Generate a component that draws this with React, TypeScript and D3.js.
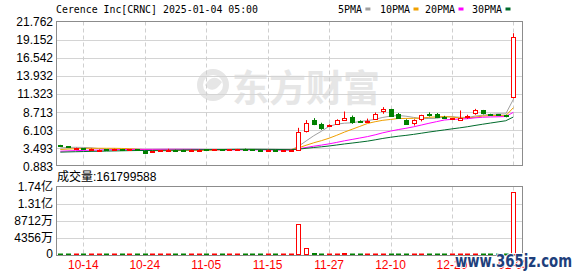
import React from "react";
import * as d3 from "d3";

const dates = ["10-09","10-10","10-11","10-14","10-15","10-16","10-17","10-18","10-21","10-22","10-23","10-24","10-25","10-28","10-29","10-30","10-31","11-01","11-04","11-05","11-06","11-07","11-08","11-11","11-12","11-13","11-14","11-15","11-18","11-19","11-20","11-21","11-22","11-25","11-26","11-27","11-29","12-02","12-03","12-04","12-05","12-06","12-09","12-10","12-11","12-12","12-13","12-16","12-17","12-18","12-19","12-20","12-23","12-24","12-26","12-27","12-30","12-31","01-02","01-03"];

const opens = [3.95,3.80,3.45,3.52,3.40,3.24,3.36,3.30,3.40,3.33,3.36,3.08,2.95,3.14,3.24,3.32,3.30,3.26,3.30,3.36,3.32,3.38,3.33,3.35,3.42,3.38,3.32,3.27,3.30,3.20,3.24,
  3.30,5.98,7.65,7.05,6.75,7.05,7.53,8.00,7.45,7.40,7.77,8.95,9.12,8.40,7.65,7.20,7.80,8.42,8.43,8.10,7.70,7.66,8.05,8.58,9.00,8.45,8.40,8.30,10.96];
const highs = [4.02,3.84,3.60,3.55,3.50,3.36,3.40,3.46,3.42,3.42,3.38,3.10,3.14,3.28,3.45,3.34,3.33,3.36,3.38,3.42,3.40,3.40,3.40,3.43,3.48,3.40,3.35,3.34,3.32,3.28,3.36,
  6.47,7.58,7.87,7.20,6.98,7.70,8.82,8.24,7.55,7.80,8.68,9.45,9.20,8.60,7.70,7.70,8.35,8.70,8.60,8.20,7.90,8.97,8.35,9.20,9.05,8.50,8.45,8.35,20.10];
const lows = [3.78,3.62,3.42,3.40,3.36,3.20,3.26,3.28,3.30,3.30,3.18,2.84,2.92,3.10,3.20,3.24,3.22,3.24,3.28,3.28,3.30,3.30,3.30,3.33,3.35,3.30,3.25,3.24,3.16,3.17,3.20,
  3.22,5.80,6.86,6.18,6.60,6.95,7.45,7.05,7.20,7.25,7.70,8.50,8.10,7.80,6.90,6.80,7.40,8.10,7.90,7.90,7.65,7.60,7.77,8.35,8.40,8.20,8.20,7.98,10.70];
const closes = [3.86,3.68,3.54,3.44,3.44,3.28,3.30,3.40,3.34,3.38,3.22,2.88,3.10,3.25,3.32,3.28,3.26,3.32,3.34,3.33,3.38,3.34,3.37,3.40,3.38,3.33,3.28,3.30,3.20,3.24,3.30,
  5.94,7.18,6.98,6.47,6.85,7.53,7.86,7.29,7.38,7.48,8.50,9.20,8.20,7.85,6.98,7.63,8.27,8.36,7.96,7.98,7.82,7.85,8.15,9.00,8.65,8.32,8.30,8.12,19.53];
const volumes = [1900000,1500000,1200000,1300000,1100000,1400000,1000000,1300000,1100000,1200000,1500000,2600000,1700000,1400000,1600000,1200000,1100000,1300000,1000000,1200000,1400000,1100000,1000000,1200000,1300000,1100000,1200000,1000000,1300000,1200000,1500000,
  78700000,17000000,5500000,2600000,2200000,2500000,5600000,3000000,2400000,2300000,2800000,3000000,3200000,2600000,3000000,2500000,2400000,2300000,2200000,2000000,2600000,2300000,1900000,2700000,2500000,2000000,1800000,2400000,161799588];
const priorCloses = [2.75,2.72,2.70,2.68,2.66,2.70,2.72,2.69,2.71,2.74,2.78,2.80,2.77,2.82,2.85,2.88,2.90,2.86,2.92,2.95,3.00,3.05,3.10,3.18,3.25,3.35,3.42,3.55,3.70];

const priceTicks = [21.762, 19.152, 16.542, 13.932, 11.323, 8.713, 6.103, 3.493, 0.883];
const volTicks = [0, 43560000, 87120000, 130680000, 174240000];
const volTickLabels = ["0", "4356万", "8712万", "1.31亿", "1.74亿"];
const xTickDates = ["10-14","10-24","11-05","11-15","11-27","12-10","12-20","01-03"];
const maPeriods = [5, 10, 20, 30];
const maNames = ["5PMA", "10PMA", "20PMA", "30PMA"];
const maColors = ["#a0a0a0", "#f0a000", "#ff00ff", "#006b2c"];
const legendX = [338, 380, 425, 472];
const title = "Cerence Inc[CRNC] 2025-01-04 05:00";
const volLabel = "成交量:161799588";

const L = 56.5, R = 522.5;
const PT = 21.5, PB = 165.5;
const VT = 186.5, VB = 255.5;
const UP = "#ff0000", DOWN = "#008000";
const sans = "'Liberation Sans', Arial, 'Noto Sans CJK SC', sans-serif";
const mono = "'DejaVu Sans Mono', 'Liberation Mono', monospace";

export default function App() {
  const x = d3.scalePoint<string>().domain(dates).range([60.3, 513.4]);
  const y = d3.scaleLinear().domain([0.883, 21.762]).range([166.6, 21.7]);
  const yv = d3.scaleLinear().domain([0, 174240000]).range([255, 187]);
  const cxOf = (d: string) => Math.round(x(d) as number) + 0.5;

  const all = [...priorCloses, ...closes];
  const mas = maPeriods.map((p) =>
    closes.map((_, i) => {
      const end = priorCloses.length + i + 1;
      return d3.mean(all.slice(end - p, end)) as number;
    })
  );
  const line = d3.line<number>().x((_, i) => x(dates[i]) as number).y((v) => y(v));

  return (
    <svg width={578} height={276} style={{ position: "fixed", left: 0, top: 0, background: "#fff" }} fontFamily={sans}>
      <rect x={0} y={0} width={578} height={276} fill="#fff" />
      {/* watermark */}
      <g opacity={1}>
        <circle cx={213} cy={85} r={13} fill="none" stroke="#e6e6e6" strokeWidth={6} />
        <path d="M205,85 Q213,72 222,82 Q213,96 205,85 Z" fill="#e6e6e6" />
        <text x={232} y={102} fontSize={37} fontWeight="bold" fill="#e6e6e6" fontFamily="'Noto Sans CJK SC', sans-serif">东方财富</text>
      </g>
      {/* title & legend */}
      <text x={56} y={13} fontSize={10} fontFamily={mono} fill="#000" textLength={202} lengthAdjust="spacingAndGlyphs">{title}</text>
      {maNames.map((n, k) => (
        <g key={n}>
          <text x={legendX[k]} y={13} fontSize={10} fontFamily={mono} fill="#000">{n}</text>
          <rect x={legendX[k] + n.length * 6.1 + 3} y={7.5} width={5} height={3} fill={maColors[k]} />
        </g>
      ))}
      {/* price grid */}
      {priceTicks.slice(1, -1).map((t) => (
        <line key={t} x1={L} x2={R} y1={Math.round(y(t)) + 0.5} y2={Math.round(y(t)) + 0.5} stroke="#d4d4d4" />
      ))}
      {xTickDates.map((d) => (
        <line key={d} x1={cxOf(d)} x2={cxOf(d)} y1={PT} y2={PB} stroke="#cfcfcf" strokeDasharray="4,3" />
      ))}
      {priceTicks.map((t) => (
        <text key={t} x={53} y={y(t)} dy="0.36em" textAnchor="end" fontSize={12} fill="#000">{t.toFixed(3)}</text>
      ))}
      {/* MA lines */}
      {mas.map((m, k) => (
        <path key={k} d={line(m) as string} fill="none" stroke={maColors[k]} strokeWidth={1} />
      ))}
      {/* candles */}
      {dates.map((d, i) => {
        const cx = cxOf(d);
        const o = opens[i], c = closes[i], h = highs[i], l = lows[i];
        const up = c >= o;
        const col = up ? UP : DOWN;
        const top = Math.round(y(Math.max(o, c)));
        const bh = Math.max(Math.round(y(Math.min(o, c))) - top, 1);
        return (
          <g key={d}>
            <line x1={cx} x2={cx} y1={y(h)} y2={y(l)} stroke={col} />
            {up ? (
              <rect x={cx - 2} y={top + 0.5} width={4} height={bh} fill="#fff" stroke={col} />
            ) : (
              <rect x={cx - 2.5} y={top} width={5} height={bh + 1} fill={col} />
            )}
          </g>
        );
      })}
      {/* price frame */}
      <rect x={L} y={PT} width={R - L} height={PB - PT} fill="none" stroke="#8c8c8c" />
      {/* volume */}
      <text x={57} y={181} fontSize={12} fill="#000">{volLabel}</text>
      {volTicks.slice(1, -1).map((t) => (
        <line key={t} x1={L} x2={R} y1={Math.round(yv(t)) + 0.5} y2={Math.round(yv(t)) + 0.5} stroke="#d4d4d4" />
      ))}
      {xTickDates.map((d) => (
        <line key={d} x1={cxOf(d)} x2={cxOf(d)} y1={VT} y2={VB} stroke="#cfcfcf" strokeDasharray="4,3" />
      ))}
      {volTicks.map((t, k) => (
        <text key={t} x={53} y={Math.min(yv(t), 254)} dy="0.36em" textAnchor="end" fontSize={12} fill="#000">{volTickLabels[k]}</text>
      ))}
      {dates.map((d, i) => {
        const cx = cxOf(d);
        const up = closes[i] >= opens[i];
        const col = up ? UP : DOWN;
        const topY = Math.round(yv(volumes[i]));
        const hgt = 255 - topY;
        if (hgt >= 3 && up) {
          return <rect key={d} x={cx - 2} y={topY + 0.5} width={4} height={hgt - 1} fill="#fff" stroke={col} />;
        }
        const hh = Math.max(hgt, 1.5);
        return <rect key={d} x={cx - 2.5} y={255 - hh} width={5} height={hh} fill={col} />;
      })}
      <rect x={L} y={VT} width={R - L} height={VB - VT} fill="none" stroke="#8c8c8c" />
      {xTickDates.map((d) => (
        <text key={d} x={x(d)} y={269} textAnchor="middle" fontSize={12} fill="#ff0000">{d}</text>
      ))}
      {/* site watermark */}
      <text x={455} y={267} fontSize={18} fontWeight="bold" fill="#1e3f7c" stroke="#ffffff" strokeWidth={2} paintOrder="stroke" textLength={117} lengthAdjust="spacingAndGlyphs" fontFamily="'DejaVu Sans', sans-serif">www.365jz.com</text>
    </svg>
  );
}
